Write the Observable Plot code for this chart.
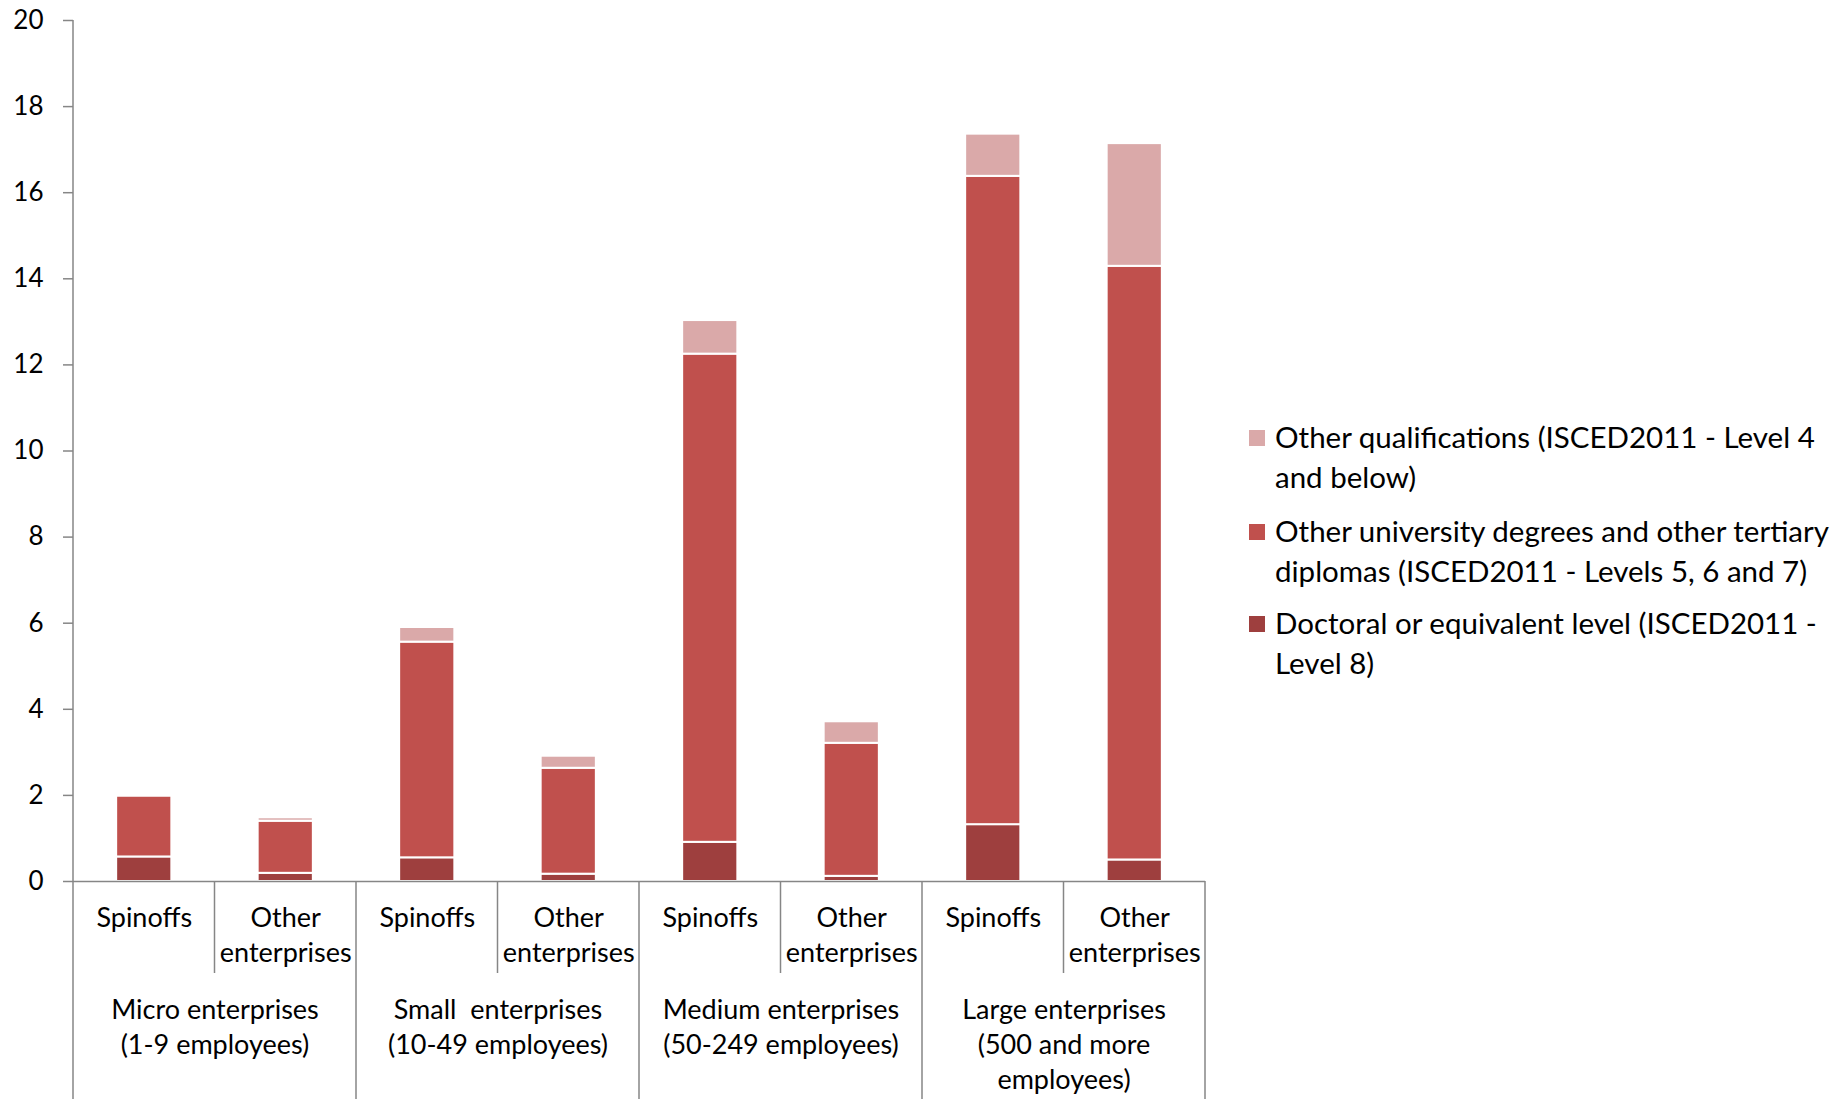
<!DOCTYPE html>
<html>
<head>
<meta charset="utf-8">
<script src="https://cdn.jsdelivr.net/npm/d3@7"></script>
<script src="https://cdn.jsdelivr.net/npm/@observablehq/plot@0.6"></script>
<style>
  html, body { margin: 0; padding: 0; background: #fff; overflow: hidden; }
  #chart { position: relative; width: 1848px; height: 1099px; font-family: Lato, "Open Sans", sans-serif; }
  #chart svg { display: block; }
  .legend-item { position: absolute; left: 1249px; font-family: Lato, sans-serif; font-size: 29.5px; line-height: 40px; color: #000; }
  .legend-item .sw { position: absolute; left: 0; top: 13px; width: 16px; height: 16px; }
  .legend-item .tx { position: absolute; left: 26px; top: 0; white-space: nowrap; }
</style>
</head>
<body>
<div id="chart"></div>
<script>
// ---- data ----
const groups = [
  "Micro enterprises\n(1-9 employees)",
  "Small\u00a0 enterprises\n(10-49 employees)",
  "Medium enterprises\n(50-249 employees)",
  "Large enterprises\n(500 and more\nemployees)"
];
const subs = ["Spinoffs", "Other\nenterprises"];
const levels = [
  "Doctoral or equivalent level (ISCED2011 - Level 8)",
  "Other university degrees and other tertiary diplomas (ISCED2011 - Levels 5, 6 and 7)",
  "Other qualifications (ISCED2011 - Level 4 and below)"
];
const legendLines = [
  ["Other qualifications (ISCED2011 - Level 4", "and below)"],
  ["Other university degrees and other tertiary", "diplomas (ISCED2011 - Levels 5, 6 and 7)"],
  ["Doctoral or equivalent level (ISCED2011 -", "Level 8)"]
];
// order of bars: Micro Spinoffs, Micro Other, Small Spinoffs, Small Other, ...
const doctoral   = [0.57, 0.19, 0.55, 0.17, 0.91, 0.12, 1.32, 0.50];
const university = [1.41, 1.21, 5.01, 2.46, 11.34, 3.09, 15.06, 13.79];
const otherQual  = [0.00, 0.08, 0.34, 0.28, 0.78, 0.50, 0.98, 2.85];
const yTicks = [0, 2, 4, 6, 8, 10, 12, 14, 16, 18, 20];
const colors = ["#9E3F3E", "#C0504D", "#DAA9A9"];
const axisGray = "#868686";

// ---- table ----
const series = [doctoral, university, otherQual];
const rows = [];
groups.forEach((g, gi) => subs.forEach((s, si) => {
  const i = gi * 2 + si;
  levels.forEach((lv, li) => rows.push({group: g, sub: s, level: lv, value: series[li][i]}));
}));
const subRows = [];
groups.forEach(g => subs.forEach(s => subRows.push({group: g, sub: s})));
const groupRows = groups.map(g => ({group: g}));

const W = 1848, H = 1099;
const plot = Plot.plot({
  width: W,
  height: H,
  marginLeft: 73,
  marginRight: 643,
  marginTop: 20,
  marginBottom: 218,
  style: {fontFamily: "Lato, sans-serif", fontSize: "26px", color: "#000", background: "transparent"},
  fx: {domain: groups, padding: 0, axis: null, round: false},
  x: {domain: subs, paddingInner: 0.61, paddingOuter: 0.305, axis: null, round: false},
  y: {domain: [0, 20], axis: null},
  color: {domain: levels, range: colors},
  marks: [
    Plot.barY(rows, Plot.stackY({
      fx: "group", x: "sub", y: "value", fill: "level", z: "level", order: levels,
      stroke: "white", strokeWidth: 2
    })),
    Plot.ruleY([0], {stroke: axisGray, strokeWidth: 1.5}),
    Plot.axisY({ticks: yTicks, tickSize: 10, tickPadding: 20, stroke: axisGray, strokeWidth: 1.5,
      fill: "#000", fontSize: 26, label: null, tickFormat: d => String(d)}),
    Plot.text(subRows, {fx: "group", x: "sub", text: "sub", frameAnchor: "bottom",
      lineAnchor: "top", dy: 20, lineHeight: 1.31, fontSize: 27, fill: "#000"}),
    Plot.text(groupRows, {fx: "group", text: "group", frameAnchor: "bottom",
      lineAnchor: "top", dy: 112, lineHeight: 1.31, fontSize: 27, fill: "#000"})
  ]
});

// category divider lines, positioned from the plot's own scales
const fxS = plot.scale("fx"), xS = plot.scale("x"), yS = plot.scale("y");
const y0 = yS.apply(0), yTop = yS.apply(20);
const g = d3.select(plot).append("g").attr("stroke", axisGray).attr("stroke-width", 1.5).attr("fill", "none");
const line = (x, ya, yb) => g.append("line").attr("x1", x).attr("x2", x).attr("y1", ya).attr("y2", yb);
const leftEdge = fxS.apply(groups[0]);
line(leftEdge, yTop, H);
groups.forEach((grp, i) => {
  const gx = fxS.apply(grp);
  if (i > 0) line(gx, y0, H);
  const mid = gx + (xS.apply(subs[1]) - xS.range[0]) - (xS.step - xS.bandwidth) / 2;
  line(mid, y0, y0 + 92);
});
line(fxS.apply(groups[groups.length - 1]) + fxS.bandwidth, y0, H);

const chart = document.getElementById("chart");
chart.appendChild(plot);

// legend (right side)
const tops = [417, 511, 603];
[2, 1, 0].forEach((li, k) => {
  const item = document.createElement("div");
  item.className = "legend-item";
  item.style.top = tops[k] + "px";
  const sw = document.createElement("div");
  sw.className = "sw";
  sw.style.background = colors[li];
  const tx = document.createElement("div");
  tx.className = "tx";
  tx.innerHTML = legendLines[k].join("<br>");
  item.appendChild(sw);
  item.appendChild(tx);
  chart.appendChild(item);
});
</script>
</body>
</html>
